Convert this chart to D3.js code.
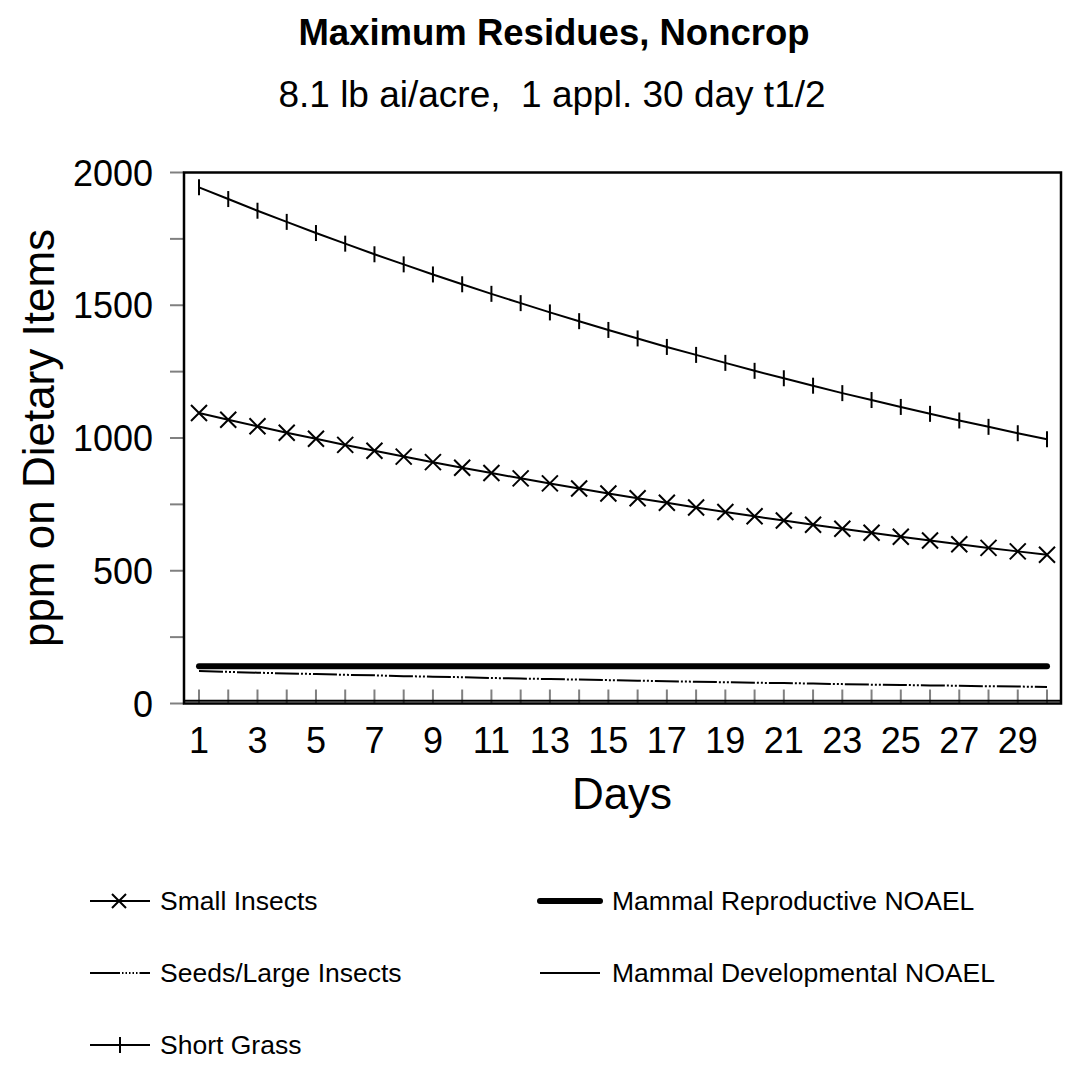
<!DOCTYPE html>
<html>
<head>
<meta charset="utf-8">
<script src="https://cdn.jsdelivr.net/npm/d3@7"></script>
<style>
  body { margin: 0; background: #fff; }
  text { font-family: "Liberation Sans", Arial, sans-serif; fill: #000; white-space: pre; }
</style>
</head>
<body>
<div id="chart"></div>
<script>
const W = 1065, H = 1072;

// data
const days = d3.range(1, 31);
const shortGrass = [1944, 1900, 1856, 1814, 1772, 1732, 1692, 1654, 1616, 1579,
  1543, 1508, 1473, 1440, 1407, 1375, 1343, 1313, 1283, 1253,
  1225, 1197, 1169, 1143, 1117, 1091, 1066, 1042, 1018, 995];
const smallInsects = [1094, 1069, 1044, 1020, 997, 974, 952, 930, 909, 888,
  868, 848, 829, 810, 791, 773, 756, 738, 721, 705,
  689, 673, 658, 643, 628, 614, 600, 586, 573, 560];
const seeds = [122, 119, 116, 113, 111, 108, 106, 103, 101, 99,
  96, 94, 92, 90, 88, 86, 84, 82, 80, 78,
  77, 75, 73, 71, 70, 68, 67, 65, 64, 62];
const reproNOAEL = 140;
const devNOAEL = 10;
const yTicks = [0, 250, 500, 750, 1000, 1250, 1500, 1750, 2000];
const yLabels = [0, 500, 1000, 1500, 2000];
const xLabels = d3.range(1, 31, 2);

const frame = {left: 184, top: 172.5, right: 1061, bottom: 703.5};

const svg = d3.select("#chart").append("svg")
  .attr("width", W).attr("height", H);

const x = d3.scalePoint()
  .domain(days)
  .range([frame.left + 15, frame.right - 14]);
const y = d3.scaleLinear()
  .domain([0, 2000])
  .range([frame.bottom, frame.top]);

// titles
svg.append("text").attr("x", 554).attr("y", 45)
  .attr("text-anchor", "middle").style("font-size", "36.5px").style("font-weight", "bold")
  .text("Maximum Residues, Noncrop");
svg.append("text").attr("x", 552).attr("y", 107)
  .attr("text-anchor", "middle").style("font-size", "37px")
  .text("8.1 lb ai/acre,  1 appl. 30 day t1/2");

// y axis ticks + labels
svg.append("g").selectAll("line").data(yTicks).enter().append("line")
  .attr("x1", frame.left - 14).attr("x2", frame.left)
  .attr("y1", d => y(d)).attr("y2", d => y(d))
  .attr("stroke", "#808080").attr("stroke-width", 2);
svg.append("g").selectAll("text").data(yLabels).enter().append("text")
  .attr("x", 153).attr("y", d => y(d) + 13)
  .attr("text-anchor", "end").style("font-size", "36px")
  .text(d => d);

// x ticks (inside) + labels
svg.append("g").selectAll("line").data(days).enter().append("line")
  .attr("x1", d => x(d)).attr("x2", d => x(d))
  .attr("y1", frame.bottom - 14).attr("y2", frame.bottom)
  .attr("stroke", "#808080").attr("stroke-width", 2);
svg.append("g").selectAll("text").data(xLabels).enter().append("text")
  .attr("x", d => x(d)).attr("y", 753)
  .attr("text-anchor", "middle").style("font-size", "36px")
  .text(d => d);

svg.append("text").attr("x", 622).attr("y", 809)
  .attr("text-anchor", "middle").style("font-size", "44px").text("Days");
svg.append("text")
  .attr("transform", "translate(54," + ((frame.top + frame.bottom) / 2) + ") rotate(-90)")
  .attr("text-anchor", "middle").style("font-size", "44px")
  .text("ppm on Dietary Items");

// series
const line = d3.line().x((d, i) => x(days[i])).y(d => y(d));

// developmental NOAEL (thin line across plot)
svg.append("line")
  .attr("x1", frame.left).attr("x2", frame.right)
  .attr("y1", y(devNOAEL)).attr("y2", y(devNOAEL))
  .attr("stroke", "#000").attr("stroke-width", 2);

// reproductive NOAEL
svg.append("path")
  .datum(days.map(() => reproNOAEL))
  .attr("d", line).attr("fill", "none")
  .attr("stroke", "#000").attr("stroke-width", 6).attr("stroke-linecap", "round");

// seeds/large insects
svg.append("path").datum(seeds).attr("d", line).attr("fill", "none")
  .attr("stroke", "#000").attr("stroke-width", 2)
  .attr("stroke-dasharray", "24,2,2,2,2,2,2,2");

// small insects
svg.append("path").datum(smallInsects).attr("d", line).attr("fill", "none")
  .attr("stroke", "#000").attr("stroke-width", 2);
svg.append("g").selectAll("path").data(smallInsects).enter().append("path")
  .attr("transform", (d, i) => "translate(" + x(days[i]) + "," + y(d) + ")")
  .attr("d", "M-8,-8L8,8M-8,8L8,-8")
  .attr("stroke", "#000").attr("stroke-width", 2);

// short grass
svg.append("path").datum(shortGrass).attr("d", line).attr("fill", "none")
  .attr("stroke", "#000").attr("stroke-width", 2);
svg.append("g").selectAll("line").data(shortGrass).enter().append("line")
  .attr("x1", (d, i) => x(days[i])).attr("x2", (d, i) => x(days[i]))
  .attr("y1", d => y(d) - 8).attr("y2", d => y(d) + 8)
  .attr("stroke", "#000").attr("stroke-width", 2);

// frame
svg.append("rect")
  .attr("x", frame.left).attr("y", frame.top)
  .attr("width", frame.right - frame.left).attr("height", frame.bottom - frame.top)
  .attr("fill", "none").attr("stroke", "#000").attr("stroke-width", 2.5);

// legend
const legend = [
  {name: "Small Insects", col: 0, row: 0, type: "x"},
  {name: "Seeds/Large Insects", col: 0, row: 1, type: "dash"},
  {name: "Short Grass", col: 0, row: 2, type: "plus"},
  {name: "Mammal Reproductive NOAEL", col: 1, row: 0, type: "thick"},
  {name: "Mammal Developmental NOAEL", col: 1, row: 1, type: "thin"}
];
const lg = svg.append("g").selectAll("g").data(legend).enter().append("g")
  .attr("transform", d => "translate(" + (d.col ? 540 : 90) + "," + (901 + d.row * 72) + ")");
lg.append("line").attr("x1", 0).attr("x2", 60).attr("y1", 0).attr("y2", 0)
  .attr("stroke", "#000")
  .attr("stroke-width", d => d.type === "thick" ? 6 : 2)
  .attr("stroke-linecap", d => d.type === "thick" ? "round" : "butt")
  .attr("stroke-dasharray", d => d.type === "dash" ? "30,2,1.5,2,1.5,2,1.5,2,1.5,2,1.5,2" : null);
lg.filter(d => d.type === "x").append("path")
  .attr("d", "M22,-7L36,7M22,7L36,-7").attr("stroke", "#000").attr("stroke-width", 2);
lg.filter(d => d.type === "plus").append("line")
  .attr("x1", 30).attr("x2", 30).attr("y1", -8).attr("y2", 8)
  .attr("stroke", "#000").attr("stroke-width", 2);
lg.append("text").attr("x", d => d.col ? 72 : 70).attr("y", 9)
  .style("font-size", "26.5px").text(d => d.name);
</script>
</body>
</html>
